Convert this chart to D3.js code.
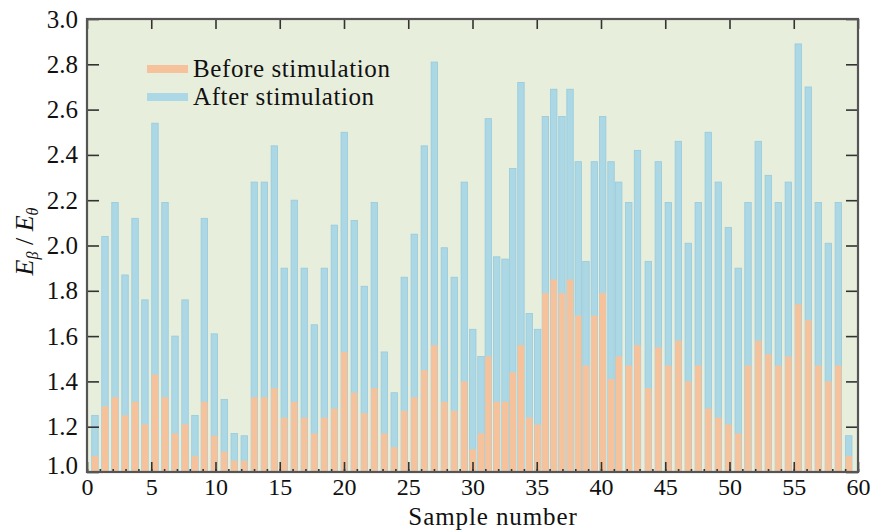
<!DOCTYPE html>
<html>
<head>
<meta charset="utf-8">
<script src="https://cdn.jsdelivr.net/npm/d3@7"></script>
<style>
  body { margin: 0; background: #fff; }
  text { font-family: "Liberation Serif", "Times New Roman", serif; fill: #111; }
</style>
</head>
<body>
<div id="chart"></div>
<script>
// sample positions (in sample-number units)
const samplePos = [0.62, 1.40, 2.18, 2.96, 3.74, 4.51, 5.29, 6.07, 6.85, 7.63,
  8.40, 9.13, 9.91, 10.68, 11.46, 12.24, 13.02, 13.80, 14.58, 15.35,
  16.13, 16.91, 17.69, 18.47, 19.25, 20.02, 20.80, 21.58, 22.36, 23.14,
  23.91, 24.69, 25.47, 26.25, 27.03, 27.81, 28.58, 29.36, 30.02, 30.66,
  31.23, 31.88, 32.53, 33.13, 33.77, 34.42, 35.07, 35.67, 36.32, 36.96,
  37.59, 38.23, 38.83, 39.48, 40.13, 40.78, 41.38, 42.16, 42.84, 43.68,
  44.46, 45.24, 46.02, 46.79, 47.57, 48.35, 49.13, 49.91, 50.68, 51.44,
  52.24, 53.02, 53.80, 54.58, 55.35, 56.13, 56.91, 57.69, 58.47, 59.28];

const afterVals = [1.25, 2.04, 2.19, 1.87, 2.12, 1.76, 2.54, 2.19, 1.60, 1.76,
  1.25, 2.12, 1.61, 1.32, 1.17, 1.16, 2.28, 2.28, 2.44, 1.90,
  2.20, 1.90, 1.65, 1.90, 2.09, 2.50, 2.11, 1.82, 2.19, 1.53,
  1.35, 1.86, 2.05, 2.44, 2.81, 1.99, 1.86, 2.28, 1.63, 1.51,
  2.56, 1.95, 1.94, 2.34, 2.72, 1.70, 1.63, 2.57, 2.69, 2.57,
  2.69, 2.37, 1.93, 2.37, 2.57, 2.37, 2.28, 2.19, 2.42, 1.93,
  2.37, 2.19, 2.46, 2.01, 2.19, 2.50, 2.28, 2.08, 1.90, 2.19,
  2.46, 2.31, 2.19, 2.28, 2.89, 2.70, 2.19, 2.01, 2.19, 1.16];

const beforeVals = [1.07, 1.29, 1.33, 1.25, 1.31, 1.21, 1.43, 1.33, 1.17, 1.21,
  1.07, 1.31, 1.16, 1.09, 1.05, 1.05, 1.33, 1.33, 1.37, 1.24,
  1.31, 1.24, 1.17, 1.24, 1.28, 1.53, 1.35, 1.26, 1.37, 1.17,
  1.11, 1.27, 1.33, 1.45, 1.56, 1.31, 1.27, 1.40, 1.10, 1.17,
  1.51, 1.31, 1.31, 1.44, 1.56, 1.24, 1.21, 1.79, 1.85, 1.79,
  1.85, 1.69, 1.47, 1.69, 1.79, 1.41, 1.51, 1.47, 1.56, 1.37,
  1.55, 1.47, 1.58, 1.40, 1.47, 1.28, 1.24, 1.21, 1.17, 1.47,
  1.58, 1.52, 1.47, 1.51, 1.74, 1.67, 1.47, 1.40, 1.47, 1.07];

const xTicks = [0, 5, 10, 15, 20, 25, 30, 35, 40, 45, 50, 55, 60];
const yTicks = [1.0, 1.2, 1.4, 1.6, 1.8, 2.0, 2.2, 2.4, 2.6, 2.8, 3.0];
const seriesNames = ["Before stimulation", "After stimulation"];

const colors = {bg: "#e8eedc", before: "#f6c29c", after: "#acd8e6", afterEdge: "#96cadc", frame: "#555"};

const width = 875, height = 530;
const margin = {top: 19, right: 17, bottom: 58, left: 87};
const w = width - margin.left - margin.right;
const h = height - margin.top - margin.bottom;

const svg = d3.select("#chart").append("svg")
    .attr("width", width)
    .attr("height", height);

const g = svg.append("g")
    .attr("transform", `translate(${margin.left},${margin.top})`);

const x = d3.scaleLinear().domain([0, 60]).range([0, w]);
const y = d3.scaleLinear().domain([1, 3]).range([h, 0]);

const data = samplePos.map((p, i) => ({pos: p, after: afterVals[i], before: beforeVals[i]}));
const barW = x(0.5) - x(0);

// plot background
g.append("rect")
    .attr("width", w)
    .attr("height", h)
    .attr("fill", colors.bg);

// after bars behind, before bars on top
g.selectAll(".after").data(data).enter()
    .append("rect")
    .attr("class", "after")
    .attr("x", d => x(d.pos) - barW / 2)
    .attr("y", d => y(d.after))
    .attr("width", barW)
    .attr("height", d => y(1) - y(d.after))
    .attr("fill", colors.after)
    .attr("stroke", colors.afterEdge)
    .attr("stroke-width", 0.8);

g.selectAll(".before").data(data).enter()
    .append("rect")
    .attr("class", "before")
    .attr("x", d => x(d.pos) - barW / 2)
    .attr("y", d => y(d.before))
    .attr("width", barW)
    .attr("height", d => y(1) - y(d.before))
    .attr("fill", colors.before);

// axes: ticks point inward on all four sides
const fmt = d3.format(".1f");

const xAxis = g.append("g")
    .attr("transform", `translate(0,${h})`)
    .call(d3.axisBottom(x).tickValues(xTicks).tickSize(-10).tickPadding(6).tickFormat(d3.format("d")));
const xMinor = g.append("g")
    .attr("transform", `translate(0,${h})`)
    .call(d3.axisBottom(x).tickValues(d3.range(0, 61, 1)).tickSize(-3).tickFormat(""));
const xTop = g.append("g")
    .call(d3.axisTop(x).tickValues(xTicks).tickSize(-10).tickFormat(""));
const yAxis = g.append("g")
    .call(d3.axisLeft(y).tickValues(yTicks).tickSize(-12).tickPadding(9).tickFormat(fmt));
const yRight = g.append("g")
    .attr("transform", `translate(${w},0)`)
    .call(d3.axisRight(y).tickValues(yTicks).tickSize(-12).tickFormat(""));

[xAxis, xMinor, xTop, yAxis, yRight].forEach(a => {
    a.select(".domain").remove();
    a.selectAll(".tick line").attr("stroke", "#333").attr("stroke-width", 1.6);
});
xAxis.selectAll("text").style("font-size", "24px").attr("fill", "#111");
yAxis.selectAll("text").style("font-size", "25px").attr("fill", "#111");
// the bottom label sits a bit higher in the original
yAxis.selectAll(".tick").filter(d => d === 1).select("text").attr("dy", "0.05em");

// frame
g.append("rect")
    .attr("width", w)
    .attr("height", h)
    .attr("fill", "none")
    .attr("stroke", colors.frame)
    .attr("stroke-width", 2.2);

// axis titles
svg.append("text")
    .attr("x", 493)
    .attr("y", 525)
    .attr("text-anchor", "middle")
    .style("font-size", "25px")
    .style("letter-spacing", "0.9px")
    .text("Sample number");

const yLab = svg.append("text")
    .attr("transform", `translate(33,${margin.top + h / 2 - 4}) rotate(-90)`)
    .attr("text-anchor", "middle")
    .style("font-size", "26px");
yLab.append("tspan").style("font-style", "italic").text("E");
yLab.append("tspan").attr("dy", 5).style("font-size", "16px").style("font-style", "italic").text("β");
yLab.append("tspan").attr("dy", -5).text(" / ");
yLab.append("tspan").style("font-style", "italic").text("E");
yLab.append("tspan").attr("dy", 5).style("font-size", "16px").style("font-style", "italic").text("θ");

// legend
const legend = g.append("g").attr("transform", "translate(60,50)");
[colors.before, colors.after].forEach((c, i) => {
    const row = legend.append("g").attr("transform", `translate(0,${i * 28})`);
    row.append("line")
        .attr("x1", 0).attr("x2", 41)
        .attr("stroke", c)
        .attr("stroke-width", 8);
    row.append("text")
        .attr("x", 46)
        .attr("dy", "0.33em")
        .style("font-size", "25px")
        .style("letter-spacing", "0.6px")
        .text(seriesNames[i]);
});
</script>
</body>
</html>
